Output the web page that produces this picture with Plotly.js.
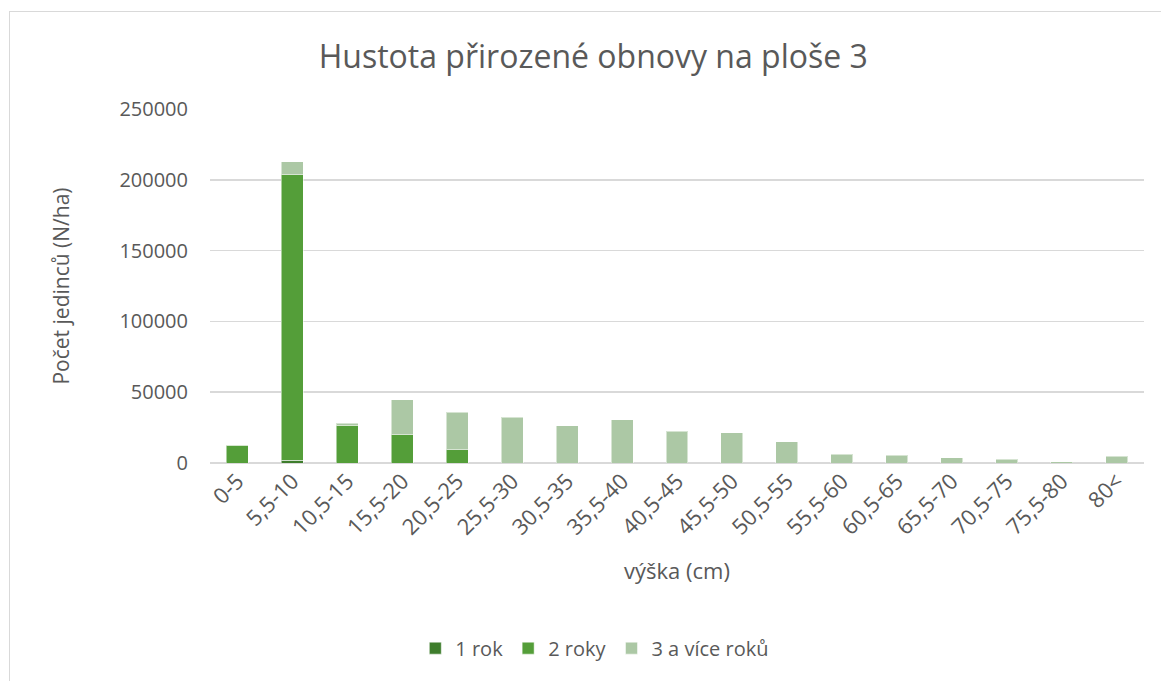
<!DOCTYPE html>
<html>
<head>
<meta charset="utf-8">
<script src="https://cdn.plot.ly/plotly-3.0.1.min.js"></script>
<style>
html,body{margin:0;padding:0;background:#fff;}
#frame{position:absolute;left:9px;top:11px;width:1160px;height:680px;border-left:1.5px solid #d9d9d9;border-top:1.5px solid #d9d9d9;}
#chart{position:absolute;left:0;top:0;width:1161px;height:681px;}
</style>
</head>
<body>
<div id="frame"></div>
<div id="chart"></div>
<script>
const categories = ["0-5","5,5-10","10,5-15","15,5-20","20,5-25","25,5-30","30,5-35","35,5-40","40,5-45","45,5-50","50,5-55","55,5-60","60,5-65","65,5-70","70,5-75","75,5-80","80<"];
const rok1 = [0, 2000, 0, 0, 0, 0, 0, 0, 0, 0, 0, 0, 0, 0, 0, 0, 0];
const roky2 = [12500, 201500, 26800, 19800, 9200, 0, 0, 0, 0, 0, 0, 0, 0, 0, 0, 0, 0];
const roky3 = [300, 9300, 1200, 24700, 26600, 32300, 26400, 30600, 22600, 21200, 15100, 6100, 5400, 3700, 2800, 900, 4900];
const seriesNames = ["1 rok", "2 roky", "3 a více roků"];
const tickVals = [0, 50000, 100000, 150000, 200000, 250000];

const font = "'Open Sans', 'Noto Sans', sans-serif";
const mk = (y, name, color) => ({
  type: 'bar', x: categories, y: y, name: name,
  marker: {color: color, line: {color: 'rgba(255,255,255,0.5)', width: 1}},
  hoverinfo: 'x+y+name'
});
const data = [
  mk(rok1, seriesNames[0], '#3e7d2c'),
  mk(roky2, seriesNames[1], '#549e39'),
  mk(roky3, seriesNames[2], '#acc8a5')
];
const layout = {
  width: 1161, height: 681,
  paper_bgcolor: 'rgba(0,0,0,0)', plot_bgcolor: 'rgba(0,0,0,0)',
  barmode: 'stack', bargap: 0.6,
  margin: {l: 210, r: 17, t: 109, b: 218},
  font: {family: font, color: '#595959', size: 20},
  title: {text: 'Hustota přirozené obnovy na ploše 3', x: 0.511, xanchor: 'center', y: 0.916, yanchor: 'middle',
          font: {family: font, size: 32, color: '#595959'}},
  xaxis: {
    type: 'category', tickangle: -45, showgrid: false, showline: false, ticks: '',
    tickfont: {size: 22, color: '#595959'},
    title: {text: 'výška (cm)', font: {size: 22, color: '#595959'}, standoff: 24}
  },
  yaxis: {
    range: [0, 250000], tickvals: tickVals, ticktext: tickVals.map(String),
    showgrid: true, gridcolor: '#d9d9d9', gridwidth: 1.5,
    zeroline: true, zerolinecolor: '#d9d9d9', zerolinewidth: 1.5,
    showline: false, ticks: '', ticklabelstandoff: 21,
    tickfont: {size: 20, color: '#595959'},
    title: {text: 'Počet jedinců (N/ha)', font: {size: 21, color: '#595959'}, standoff: 44}
  },
  legend: {orientation: 'h', x: 0.412, xanchor: 'center', y: -0.523, yanchor: 'middle',
           font: {size: 20, color: '#595959'}, traceorder: 'normal', itemwidth: 30}
};
Plotly.newPlot('chart', data, layout, {displayModeBar: false, staticPlot: true});
</script>
</body>
</html>
